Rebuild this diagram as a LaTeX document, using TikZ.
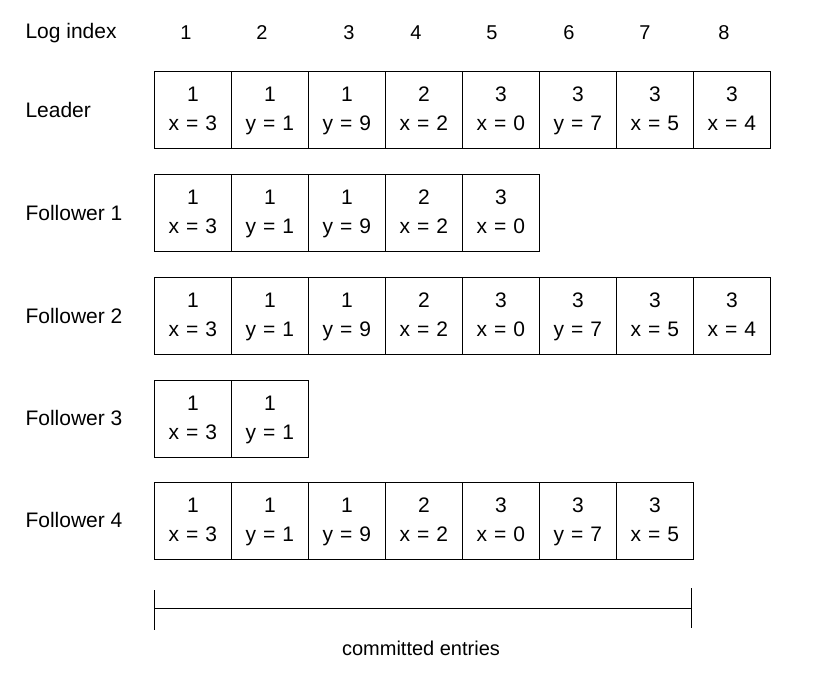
\documentclass[tikz,border=0pt]{standalone}
\usepackage{fontspec}
\setmainfont{Liberation Sans}
\begin{document}
\begin{tikzpicture}[x=1pt,y=-1pt,
  cellbox/.style={draw=black, line width=0.9pt, minimum width=77pt, minimum height=77pt, inner sep=0pt, anchor=north west, align=center, font=\fontsize{21}{29}\selectfont},
  rowlabel/.style={anchor=west, font=\fontsize{21}{24}\selectfont},
  idxlabel/.style={font=\fontsize{20}{24}\selectfont}]
\useasboundingbox (0,0) rectangle (835,682);
\node[rowlabel] (logidx) at (22,33) {Log index};
\foreach \i/\xx in {1/186,2/262,3/349,4/416,5/492,6/569,7/645,8/724}
  \node[idxlabel] (idx\i) at (\xx,33) {\i};
% row labels
\node[rowlabel] (lLeader) at (22,110) {Leader};
\node[rowlabel] (lF1) at (22,213) {Follower 1};
\node[rowlabel] (lF2) at (22,316) {Follower 2};
\node[rowlabel] (lF3) at (22,418) {Follower 3};
\node[rowlabel] (lF4) at (22,520) {Follower 4};
% entries
\foreach \r/\yy/\n in {L/71/8, A/174/5, B/277/8, C/380/2, D/482/7}{
  \foreach \k/\t/\v/\w in {1/1/x/3, 2/1/y/1, 3/1/y/9, 4/2/x/2, 5/3/x/0, 6/3/y/7, 7/3/x/5, 8/3/x/4}{
    \ifnum\k>\n\else
      \node[cellbox] (c\r\k) at ({154+77*(\k-1)},\yy) {\strut\t\\ \strut\v\hspace{7pt}=\hspace{7pt}\w};
    \fi
  }
}
% committed bracket
\coordinate (bl) at (154,608);
\coordinate (br) at (691,608);
\coordinate (blt) at (154,590);
\coordinate (blb) at (154,630);
\coordinate (brt) at (691,588);
\coordinate (brb) at (691,628);
\draw[line width=1pt] (bl) -- (br);
\draw[line width=1pt] (blt) -- (blb);
\draw[line width=1pt] (brt) -- (brb);
\node[font=\fontsize{20}{24}\selectfont] (committed) at (421,648) {committed entries};
\end{tikzpicture}
\end{document}
